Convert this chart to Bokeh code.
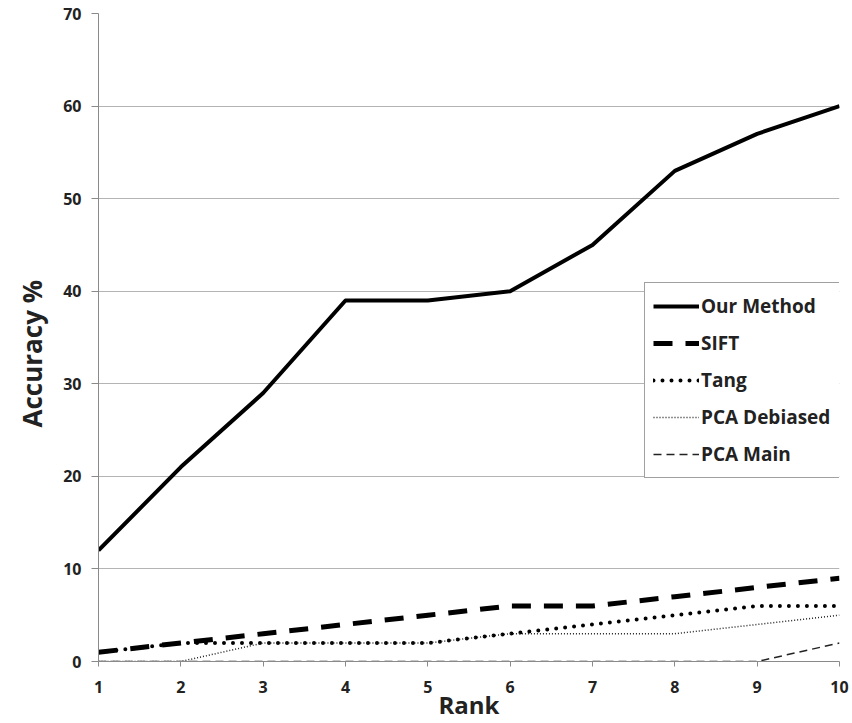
from bokeh.plotting import figure
from bokeh.models import Range1d, Legend, LegendItem, FixedTicker, Title
from bokeh.embed import file_html
from bokeh.resources import INLINE

rank = [1, 2, 3, 4, 5, 6, 7, 8, 9, 10]
our_method = [12, 21, 29, 39, 39, 40, 45, 53, 57, 60]
sift = [1, 2, 3, 4, 5, 6, 6, 7, 8, 9]
tang = [1, 2, 2, 2, 2, 3, 4, 5, 6, 6]
pca_debiased = [0, 0, 2, 2, 2, 3, 3, 3, 4, 5]
pca_main = [0, 0, 0, 0, 0, 0, 0, 0, 0, 2]
y_ticks = [0, 10, 20, 30, 40, 50, 60, 70]
x_title = "Rank"
y_title = "Accuracy %"

FONT = "Open Sans"

p = figure(width=852, height=723, output_backend="svg", toolbar_location=None,
           x_range=Range1d(1, 10), y_range=Range1d(0, 70),
           min_border_left=97, min_border_right=13, min_border_top=13,
           min_border_bottom=62)
p.outline_line_color = None
p.background_fill_color = "white"
p.border_fill_color = "white"

p.xgrid.grid_line_color = None
p.ygrid.grid_line_color = "#b4b4b4"
p.ygrid.grid_line_width = 1
p.ygrid.ticker = FixedTicker(ticks=y_ticks)

p.yaxis.ticker = FixedTicker(ticks=y_ticks)
p.xaxis.ticker = FixedTicker(ticks=rank)
for ax in (p.xaxis[0], p.yaxis[0]):
    ax.axis_line_color = "#8a8a8a"
    ax.major_tick_line_color = "#8a8a8a"
    ax.minor_tick_line_color = None
    ax.major_tick_in = 0
    ax.major_label_text_font = FONT
    ax.major_label_text_font_style = "bold"
    ax.major_label_text_font_size = "16px"
    ax.major_label_text_color = "#222222"
p.yaxis.major_tick_out = 7
p.xaxis.major_tick_out = 5
p.yaxis.major_label_standoff = 10
p.xaxis.major_label_standoff = 14

p.xaxis.axis_label = x_title
p.xaxis.axis_label_text_font = FONT
p.xaxis.axis_label_text_font_style = "bold"
p.xaxis.axis_label_text_font_size = "24px"
p.xaxis.axis_label_text_color = "#222222"
p.xaxis.axis_label_standoff = -8

ytitle = Title(text=y_title, align="left", offset=234, standoff=22,
               text_font=FONT, text_font_style="bold", text_font_size="26px",
               text_color="#222222")
p.add_layout(ytitle, "left")

r1 = p.line(rank, our_method, line_color="black", line_width=4, line_join="round")
r2 = p.line(rank, sift, line_color="black", line_width=5, line_dash="19 13")
r3 = p.line(rank, tang, line_color="black", line_width=4, line_dash="0 9",
            line_cap="round")
r4 = p.line(rank, pca_debiased, line_color="#222222", line_width=1.5, line_dash="1 2")
r5 = p.line(rank, pca_main, line_color="#222222", line_width=1.5, line_dash="8 5")

legend = Legend(items=[
    LegendItem(label="Our Method", renderers=[r1]),
    LegendItem(label="SIFT", renderers=[r2]),
    LegendItem(label="Tang", renderers=[r3]),
    LegendItem(label="PCA Debiased", renderers=[r4]),
    LegendItem(label="PCA Main", renderers=[r5]),
], location=(546, 183))
legend.border_line_color = "#444444"
legend.border_line_width = 1
legend.background_fill_color = "white"
legend.background_fill_alpha = 1
legend.label_text_font = FONT
legend.label_text_font_style = "bold"
legend.label_text_font_size = "19px"
legend.label_text_color = "#222222"
legend.glyph_width = 46
legend.glyph_height = 30
legend.label_width = 135
legend.spacing = 7
legend.padding = 8
legend.margin = 0
legend.label_standoff = 2
p.add_layout(legend, "center")

open("out.html", "w").write(file_html(p, INLINE))
